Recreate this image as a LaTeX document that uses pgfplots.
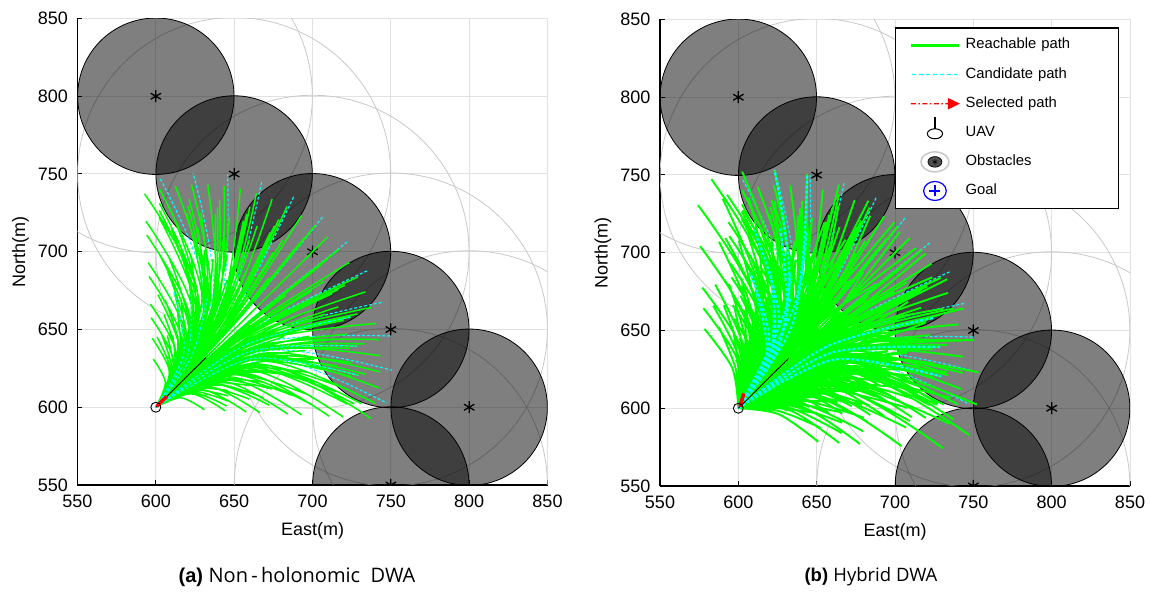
\documentclass[border=0pt]{standalone}
\usepackage{fontspec}
\setmainfont{Liberation Sans}
\newfontfamily\capfont{Open Sans}
\usepackage{pgfplots}
\usepackage{pgfplotstable}
\pgfplotsset{compat=1.18}
\definecolor{pgreen}{RGB}{0,255,0}
\definecolor{pcyan}{RGB}{0,255,255}
\definecolor{pred}{RGB}{255,0,0}
\definecolor{gridc}{RGB}{226,226,226}
\definecolor{ringc}{RGB}{200,200,200}
\definecolor{obsdark}{RGB}{80,80,80}

% obstacle centres (radius 50 m)
\pgfplotstableread[row sep=\\]{x y\\600 800\\650 750\\700 700\\750 650\\800 600\\750 550\\}\obst

% reachable paths of the non-holonomic DWA (also part of the hybrid set)
\pgfplotstableread[row sep=\\]{x y\\
600 600\\654.8 654.8\\709.6 709.6\\nan nan\\
600 600\\652.8 656.7\\701.6 716.9\\nan nan\\
600 600\\656.7 652.8\\716.9 701.6\\nan nan\\
600 600\\650.8 658.4\\693.0 723.4\\nan nan\\
600 600\\658.4 650.8\\723.4 693.0\\nan nan\\
600 600\\648.7 660.1\\683.8 729.1\\nan nan\\
600 600\\660.1 648.7\\729.1 683.8\\nan nan\\
600 600\\646.5 661.7\\674.2 733.8\\nan nan\\
600 600\\661.7 646.5\\733.8 674.2\\nan nan\\
600 600\\644.2 663.2\\664.2 737.6\\nan nan\\
600 600\\663.2 644.2\\737.6 664.2\\nan nan\\
600 600\\641.9 664.5\\653.9 740.5\\nan nan\\
600 600\\664.5 641.9\\740.5 653.9\\nan nan\\
600 600\\639.5 665.8\\643.5 742.4\\nan nan\\
600 600\\665.8 639.5\\742.4 643.5\\nan nan\\
600 600\\637.1 666.9\\633.1 743.3\\nan nan\\
600 600\\666.9 637.1\\743.3 633.1\\nan nan\\
600 600\\634.6 667.9\\622.7 743.2\\nan nan\\
600 600\\667.9 634.6\\743.2 622.7\\nan nan\\
600 600\\632.1 668.8\\612.4 742.2\\nan nan\\
600 600\\668.8 632.1\\742.2 612.4\\nan nan\\
600 600\\629.5 669.6\\602.4 740.2\\nan nan\\
600 600\\669.6 629.5\\740.2 602.4\\nan nan\\
600 600\\627.0 670.3\\592.8 737.3\\nan nan\\
600 600\\670.3 627.0\\737.3 592.8\\nan nan\\
600 600\\649.4 653.0\\695.1 709.3\\nan nan\\
600 600\\653.0 649.4\\709.3 695.1\\nan nan\\
600 600\\645.5 656.2\\678.4 720.7\\nan nan\\
600 600\\656.2 645.5\\720.7 678.4\\nan nan\\
600 600\\641.4 659.1\\660.0 728.8\\nan nan\\
600 600\\659.1 641.4\\728.8 660.0\\nan nan\\
600 600\\637.0 661.5\\640.7 733.2\\nan nan\\
600 600\\661.5 637.0\\733.2 640.7\\nan nan\\
600 600\\632.4 663.5\\621.2 734.0\\nan nan\\
600 600\\663.5 632.4\\734.0 621.2\\nan nan\\
600 600\\627.6 665.1\\602.3 731.2\\nan nan\\
600 600\\665.1 627.6\\731.2 602.3\\nan nan\\
600 600\\647.7 651.2\\691.8 705.6\\nan nan\\
600 600\\651.2 647.7\\705.6 691.8\\nan nan\\
600 600\\644.0 654.3\\675.7 716.6\\nan nan\\
600 600\\654.3 644.0\\716.6 675.7\\nan nan\\
600 600\\640.0 657.1\\658.0 724.3\\nan nan\\
600 600\\657.1 640.0\\724.3 658.0\\nan nan\\
600 600\\635.7 659.4\\639.3 728.6\\nan nan\\
600 600\\659.4 635.7\\728.6 639.3\\nan nan\\
600 600\\631.3 661.3\\620.5 729.4\\nan nan\\
600 600\\661.3 631.3\\729.4 620.5\\nan nan\\
600 600\\626.7 662.9\\602.2 726.6\\nan nan\\
600 600\\662.9 626.7\\726.6 602.2\\nan nan\\
600 600\\647.7 647.7\\695.5 695.5\\nan nan\\
600 600\\646.0 649.4\\688.5 701.8\\nan nan\\
600 600\\649.4 646.0\\701.8 688.5\\nan nan\\
600 600\\644.3 650.9\\681.0 707.5\\nan nan\\
600 600\\650.9 644.3\\707.5 681.0\\nan nan\\
600 600\\642.4 652.4\\673.0 712.4\\nan nan\\
600 600\\652.4 642.4\\712.4 673.0\\nan nan\\
600 600\\640.5 653.7\\664.6 716.5\\nan nan\\
600 600\\653.7 640.5\\716.5 664.6\\nan nan\\
600 600\\638.5 655.0\\655.9 719.9\\nan nan\\
600 600\\655.0 638.5\\719.9 655.9\\nan nan\\
600 600\\636.5 656.2\\647.0 722.4\\nan nan\\
600 600\\656.2 636.5\\722.4 647.0\\nan nan\\
600 600\\634.4 657.3\\637.9 724.0\\nan nan\\
600 600\\657.3 634.4\\724.0 637.9\\nan nan\\
600 600\\632.3 658.3\\628.8 724.8\\nan nan\\
600 600\\658.3 632.3\\724.8 628.8\\nan nan\\
600 600\\630.1 659.2\\619.8 724.7\\nan nan\\
600 600\\659.2 630.1\\724.7 619.8\\nan nan\\
600 600\\627.9 659.9\\610.8 723.8\\nan nan\\
600 600\\659.9 627.9\\723.8 610.8\\nan nan\\
600 600\\625.7 660.6\\602.1 722.1\\nan nan\\
600 600\\660.6 625.7\\722.1 602.1\\nan nan\\
600 600\\623.5 661.2\\593.7 719.6\\nan nan\\
600 600\\661.2 623.5\\719.6 593.7\\nan nan\\
600 600\\644.2 644.2\\688.4 688.4\\nan nan\\
600 600\\641.0 647.1\\675.0 699.5\\nan nan\\
600 600\\647.1 641.0\\699.5 675.0\\nan nan\\
600 600\\637.5 649.8\\659.8 707.9\\nan nan\\
600 600\\649.8 637.5\\707.9 659.8\\nan nan\\
600 600\\633.8 652.0\\643.5 713.3\\nan nan\\
600 600\\652.0 633.8\\713.3 643.5\\nan nan\\
600 600\\629.9 654.0\\626.7 715.6\\nan nan\\
600 600\\654.0 629.9\\715.6 626.7\\nan nan\\
600 600\\625.9 655.5\\610.0 714.7\\nan nan\\
600 600\\655.5 625.9\\714.7 610.0\\nan nan\\
600 600\\621.8 656.7\\594.2 710.7\\nan nan\\
600 600\\656.7 621.8\\710.7 594.2\\nan nan\\
600 600\\637.5 640.2\\672.1 683.0\\nan nan\\
600 600\\640.2 637.5\\683.0 672.1\\nan nan\\
600 600\\634.6 642.7\\659.5 691.6\\nan nan\\
600 600\\642.7 634.6\\691.6 659.5\\nan nan\\
600 600\\631.4 644.8\\645.6 697.7\\nan nan\\
600 600\\644.8 631.4\\697.7 645.6\\nan nan\\
600 600\\628.1 646.7\\630.9 701.1\\nan nan\\
600 600\\646.7 628.1\\701.1 630.9\\nan nan\\
600 600\\624.6 648.2\\616.1 701.6\\nan nan\\
600 600\\648.2 624.6\\701.6 616.1\\nan nan\\
600 600\\621.0 649.4\\601.7 699.5\\nan nan\\
600 600\\649.4 621.0\\699.5 601.7\\nan nan\\
600 600\\637.1 637.1\\674.2 674.2\\nan nan\\
600 600\\634.4 639.6\\663.0 683.6\\nan nan\\
600 600\\639.6 634.4\\683.6 663.0\\nan nan\\
600 600\\631.5 641.8\\650.2 690.6\\nan nan\\
600 600\\641.8 631.5\\690.6 650.2\\nan nan\\
600 600\\628.4 643.7\\636.5 695.2\\nan nan\\
600 600\\643.7 628.4\\695.2 636.5\\nan nan\\
600 600\\625.1 645.3\\622.4 697.1\\nan nan\\
600 600\\645.3 625.1\\697.1 622.4\\nan nan\\
600 600\\621.7 646.6\\608.4 696.3\\nan nan\\
600 600\\646.6 621.7\\696.3 608.4\\nan nan\\
600 600\\618.3 647.6\\595.1 693.0\\nan nan\\
600 600\\647.6 618.3\\693.0 595.1\\nan nan\\
600 600\\633.6 633.6\\667.2 667.2\\nan nan\\
600 600\\631.1 635.8\\657.0 675.6\\nan nan\\
600 600\\635.8 631.1\\675.6 657.0\\nan nan\\
600 600\\628.5 637.8\\645.5 682.0\\nan nan\\
600 600\\637.8 628.5\\682.0 645.5\\nan nan\\
600 600\\625.7 639.5\\633.1 686.1\\nan nan\\
600 600\\639.5 625.7\\686.1 633.1\\nan nan\\
600 600\\622.7 641.0\\620.3 687.8\\nan nan\\
600 600\\641.0 622.7\\687.8 620.3\\nan nan\\
600 600\\619.7 642.2\\607.6 687.1\\nan nan\\
600 600\\642.2 619.7\\687.1 607.6\\nan nan\\
600 600\\616.5 643.1\\595.6 684.2\\nan nan\\
600 600\\643.1 616.5\\684.2 595.6\\nan nan\\
600 600\\627.3 629.2\\652.4 660.3\\nan nan\\
600 600\\629.2 627.3\\660.3 652.4\\nan nan\\
600 600\\625.1 631.0\\643.2 666.6\\nan nan\\
600 600\\631.0 625.1\\666.6 643.2\\nan nan\\
600 600\\622.8 632.6\\633.1 671.0\\nan nan\\
600 600\\632.6 622.8\\671.0 633.1\\nan nan\\
600 600\\620.4 634.0\\622.5 673.5\\nan nan\\
600 600\\634.0 620.4\\673.5 622.5\\nan nan\\
600 600\\617.9 635.1\\611.7 673.9\\nan nan\\
600 600\\635.1 617.9\\673.9 611.7\\nan nan\\
600 600\\615.2 635.9\\601.3 672.4\\nan nan\\
600 600\\635.9 615.2\\672.4 601.3\\nan nan\\
600 600\\626.5 626.5\\653.0 653.0\\nan nan\\
600 600\\624.6 628.3\\645.0 659.7\\nan nan\\
600 600\\628.3 624.6\\659.7 645.0\\nan nan\\
600 600\\622.5 629.9\\635.9 664.7\\nan nan\\
600 600\\629.9 622.5\\664.7 635.9\\nan nan\\
600 600\\620.3 631.2\\626.1 668.0\\nan nan\\
600 600\\631.2 620.3\\668.0 626.1\\nan nan\\
600 600\\617.9 632.4\\616.0 669.3\\nan nan\\
600 600\\632.4 617.9\\669.3 616.0\\nan nan\\
600 600\\615.5 633.3\\606.0 668.8\\nan nan\\
600 600\\633.3 615.5\\668.8 606.0\\nan nan\\
600 600\\613.1 634.0\\596.5 666.4\\nan nan\\
600 600\\634.0 613.1\\666.4 596.5\\nan nan\\
600 600\\623.0 623.0\\646.0 646.0\\nan nan\\
600 600\\621.3 624.5\\639.0 651.7\\nan nan\\
600 600\\624.5 621.3\\651.7 639.0\\nan nan\\
600 600\\619.5 625.9\\631.1 656.1\\nan nan\\
600 600\\625.9 619.5\\656.1 631.1\\nan nan\\
600 600\\617.6 627.1\\622.6 658.9\\nan nan\\
600 600\\627.1 617.6\\658.9 622.6\\nan nan\\
600 600\\615.6 628.1\\613.9 660.1\\nan nan\\
600 600\\628.1 615.6\\660.1 613.9\\nan nan\\
600 600\\613.5 628.9\\605.2 659.6\\nan nan\\
600 600\\628.9 613.5\\659.6 605.2\\nan nan\\
600 600\\611.3 629.5\\597.0 657.6\\nan nan\\
600 600\\629.5 611.3\\657.6 597.0\\nan nan\\
600 600\\617.7 617.7\\635.4 635.4\\nan nan\\
600 600\\617.0 618.3\\632.8 637.7\\nan nan\\
600 600\\618.3 617.0\\637.7 632.8\\nan nan\\
600 600\\616.4 618.9\\630.0 639.8\\nan nan\\
600 600\\618.9 616.4\\639.8 630.0\\nan nan\\
600 600\\615.7 619.4\\627.0 641.6\\nan nan\\
600 600\\619.4 615.7\\641.6 627.0\\nan nan\\
600 600\\615.0 619.9\\623.9 643.2\\nan nan\\
600 600\\619.9 615.0\\643.2 623.9\\nan nan\\
600 600\\614.3 620.4\\620.7 644.4\\nan nan\\
600 600\\620.4 614.3\\644.4 620.7\\nan nan\\
600 600\\613.5 620.8\\617.4 645.3\\nan nan\\
600 600\\620.8 613.5\\645.3 617.4\\nan nan\\
600 600\\612.8 621.2\\614.0 645.9\\nan nan\\
600 600\\621.2 612.8\\645.9 614.0\\nan nan\\
600 600\\612.0 621.6\\610.7 646.2\\nan nan\\
600 600\\621.6 612.0\\646.2 610.7\\nan nan\\
600 600\\611.2 621.9\\607.3 646.2\\nan nan\\
600 600\\621.9 611.2\\646.2 607.3\\nan nan\\
600 600\\610.4 622.2\\604.0 645.9\\nan nan\\
600 600\\622.2 610.4\\645.9 604.0\\nan nan\\
600 600\\609.5 622.5\\600.8 645.2\\nan nan\\
600 600\\622.5 609.5\\645.2 600.8\\nan nan\\
600 600\\608.7 622.7\\597.7 644.3\\nan nan\\
600 600\\622.7 608.7\\644.3 597.7\\nan nan\\
600 600\\612.4 612.4\\624.7 624.7\\nan nan\\
600 600\\610.5 613.9\\616.7 630.2\\nan nan\\
600 600\\613.9 610.5\\630.2 616.7\\nan nan\\
600 600\\608.4 615.1\\607.5 632.4\\nan nan\\
600 600\\615.1 608.4\\632.4 607.5\\nan nan\\
600 600\\606.1 615.9\\598.4 631.0\\nan nan\\
600 600\\615.9 606.1\\631.0 598.4\\nan nan\\
}\greenA

% extra reachable paths of the hybrid DWA (with lateral motion)
\pgfplotstableread[row sep=\\]{x y\\
600 600\\634.2 654.2\\668.4 708.4\\nan nan\\
600 600\\631.0 657.1\\655.0 719.5\\nan nan\\
600 600\\637.1 651.0\\679.5 695.0\\nan nan\\
600 600\\627.5 659.8\\639.8 727.9\\nan nan\\
600 600\\639.8 647.5\\687.9 679.8\\nan nan\\
600 600\\623.8 662.0\\623.5 733.3\\nan nan\\
600 600\\642.0 643.8\\693.3 663.5\\nan nan\\
600 600\\619.9 664.0\\606.7 735.6\\nan nan\\
600 600\\644.0 639.9\\695.6 646.7\\nan nan\\
600 600\\615.9 665.5\\590.0 734.7\\nan nan\\
600 600\\645.5 635.9\\694.7 630.0\\nan nan\\
600 600\\611.8 666.7\\574.2 730.7\\nan nan\\
600 600\\646.7 631.8\\690.7 614.2\\nan nan\\
600 600\\623.6 643.6\\647.2 687.2\\nan nan\\
600 600\\621.1 645.8\\637.0 695.6\\nan nan\\
600 600\\625.8 641.1\\655.6 677.0\\nan nan\\
600 600\\618.5 647.8\\625.5 702.0\\nan nan\\
600 600\\627.8 638.5\\662.0 665.5\\nan nan\\
600 600\\615.7 649.5\\613.1 706.1\\nan nan\\
600 600\\629.5 635.7\\666.1 653.1\\nan nan\\
600 600\\612.7 651.0\\600.3 707.8\\nan nan\\
600 600\\631.0 632.7\\667.8 640.3\\nan nan\\
600 600\\609.7 652.2\\587.6 707.1\\nan nan\\
600 600\\632.2 629.7\\667.1 627.6\\nan nan\\
600 600\\606.5 653.1\\575.6 704.2\\nan nan\\
600 600\\633.1 626.5\\664.2 615.6\\nan nan\\
600 600\\613.0 633.0\\626.0 666.0\\nan nan\\
600 600\\611.3 634.5\\619.0 671.7\\nan nan\\
600 600\\614.5 631.3\\631.7 659.0\\nan nan\\
600 600\\609.5 635.9\\611.1 676.1\\nan nan\\
600 600\\615.9 629.5\\636.1 651.1\\nan nan\\
600 600\\607.6 637.1\\602.6 678.9\\nan nan\\
600 600\\617.1 627.6\\638.9 642.6\\nan nan\\
600 600\\605.6 638.1\\593.9 680.1\\nan nan\\
600 600\\618.1 625.6\\640.1 633.9\\nan nan\\
600 600\\603.5 638.9\\585.2 679.6\\nan nan\\
600 600\\618.9 623.5\\639.6 625.2\\nan nan\\
600 600\\601.3 639.5\\577.0 677.6\\nan nan\\
600 600\\619.5 621.3\\637.6 617.0\\nan nan\\
600 600\\607.7 627.7\\615.4 655.4\\nan nan\\
600 600\\606.4 628.9\\610.0 659.8\\nan nan\\
600 600\\608.9 626.4\\619.8 650.0\\nan nan\\
600 600\\605.0 629.9\\603.9 663.2\\nan nan\\
600 600\\609.9 625.0\\623.2 643.9\\nan nan\\
600 600\\603.5 630.8\\597.4 665.3\\nan nan\\
600 600\\610.8 623.5\\625.3 637.4\\nan nan\\
600 600\\602.0 631.6\\590.7 666.2\\nan nan\\
600 600\\611.6 622.0\\626.2 630.7\\nan nan\\
600 600\\600.4 632.2\\584.0 665.9\\nan nan\\
600 600\\612.2 620.4\\625.9 624.0\\nan nan\\
600 600\\598.7 632.7\\577.7 664.3\\nan nan\\
600 600\\612.7 618.7\\624.3 617.7\\nan nan\\
600 600\\602.4 622.4\\604.7 644.7\\nan nan\\
600 600\\600.5 623.9\\596.7 650.2\\nan nan\\
600 600\\603.9 620.5\\610.2 636.7\\nan nan\\
600 600\\598.4 625.1\\587.5 652.4\\nan nan\\
600 600\\605.1 618.4\\612.4 627.5\\nan nan\\
600 600\\596.1 625.9\\578.4 651.0\\nan nan\\
600 600\\605.9 616.1\\611.0 618.4\\nan nan\\
600 600\\654.2 634.2\\708.4 668.4\\nan nan\\
600 600\\657.1 631.0\\719.5 655.0\\nan nan\\
600 600\\651.0 637.1\\695.0 679.5\\nan nan\\
600 600\\659.8 627.5\\727.9 639.8\\nan nan\\
600 600\\647.5 639.8\\679.8 687.9\\nan nan\\
600 600\\662.0 623.8\\733.3 623.5\\nan nan\\
600 600\\643.8 642.0\\663.5 693.3\\nan nan\\
600 600\\664.0 619.9\\735.6 606.7\\nan nan\\
600 600\\639.9 644.0\\646.7 695.6\\nan nan\\
600 600\\665.5 615.9\\734.7 590.0\\nan nan\\
600 600\\635.9 645.5\\630.0 694.7\\nan nan\\
600 600\\666.7 611.8\\730.7 574.2\\nan nan\\
600 600\\631.8 646.7\\614.2 690.7\\nan nan\\
600 600\\643.6 623.6\\687.2 647.2\\nan nan\\
600 600\\645.8 621.1\\695.6 637.0\\nan nan\\
600 600\\641.1 625.8\\677.0 655.6\\nan nan\\
600 600\\647.8 618.5\\702.0 625.5\\nan nan\\
600 600\\638.5 627.8\\665.5 662.0\\nan nan\\
600 600\\649.5 615.7\\706.1 613.1\\nan nan\\
600 600\\635.7 629.5\\653.1 666.1\\nan nan\\
600 600\\651.0 612.7\\707.8 600.3\\nan nan\\
600 600\\632.7 631.0\\640.3 667.8\\nan nan\\
600 600\\652.2 609.7\\707.1 587.6\\nan nan\\
600 600\\629.7 632.2\\627.6 667.1\\nan nan\\
600 600\\653.1 606.5\\704.2 575.6\\nan nan\\
600 600\\626.5 633.1\\615.6 664.2\\nan nan\\
600 600\\633.0 613.0\\666.0 626.0\\nan nan\\
600 600\\634.5 611.3\\671.7 619.0\\nan nan\\
600 600\\631.3 614.5\\659.0 631.7\\nan nan\\
600 600\\635.9 609.5\\676.1 611.1\\nan nan\\
600 600\\629.5 615.9\\651.1 636.1\\nan nan\\
600 600\\637.1 607.6\\678.9 602.6\\nan nan\\
600 600\\627.6 617.1\\642.6 638.9\\nan nan\\
600 600\\638.1 605.6\\680.1 593.9\\nan nan\\
600 600\\625.6 618.1\\633.9 640.1\\nan nan\\
600 600\\638.9 603.5\\679.6 585.2\\nan nan\\
600 600\\623.5 618.9\\625.2 639.6\\nan nan\\
600 600\\639.5 601.3\\677.6 577.0\\nan nan\\
600 600\\621.3 619.5\\617.0 637.6\\nan nan\\
600 600\\627.7 607.7\\655.4 615.4\\nan nan\\
600 600\\628.9 606.4\\659.8 610.0\\nan nan\\
600 600\\626.4 608.9\\650.0 619.8\\nan nan\\
600 600\\629.9 605.0\\663.2 603.9\\nan nan\\
600 600\\625.0 609.9\\643.9 623.2\\nan nan\\
600 600\\630.8 603.5\\665.3 597.4\\nan nan\\
600 600\\623.5 610.8\\637.4 625.3\\nan nan\\
600 600\\631.6 602.0\\666.2 590.7\\nan nan\\
600 600\\622.0 611.6\\630.7 626.2\\nan nan\\
600 600\\632.2 600.4\\665.9 584.0\\nan nan\\
600 600\\620.4 612.2\\624.0 625.9\\nan nan\\
600 600\\632.7 598.7\\664.3 577.7\\nan nan\\
600 600\\618.7 612.7\\617.7 624.3\\nan nan\\
600 600\\622.4 602.4\\644.7 604.7\\nan nan\\
600 600\\623.9 600.5\\650.2 596.7\\nan nan\\
600 600\\620.5 603.9\\636.7 610.2\\nan nan\\
600 600\\625.1 598.4\\652.4 587.5\\nan nan\\
600 600\\618.4 605.1\\627.5 612.4\\nan nan\\
600 600\\625.9 596.1\\651.0 578.4\\nan nan\\
600 600\\616.1 605.9\\618.4 611.0\\nan nan\\
600 600\\649.8 659.8\\699.6 719.6\\nan nan\\
600 600\\645.8 663.4\\683.0 733.4\\nan nan\\
600 600\\653.4 655.8\\713.4 703.0\\nan nan\\
600 600\\641.5 666.7\\664.2 743.8\\nan nan\\
600 600\\656.7 651.5\\723.8 684.2\\nan nan\\
600 600\\636.9 669.5\\643.9 750.5\\nan nan\\
600 600\\659.5 646.9\\730.5 663.9\\nan nan\\
600 600\\632.1 671.9\\623.1 753.3\\nan nan\\
600 600\\661.9 642.1\\733.3 643.1\\nan nan\\
600 600\\627.1 673.8\\602.4 752.2\\nan nan\\
600 600\\663.8 637.1\\732.2 622.4\\nan nan\\
600 600\\622.0 675.3\\582.8 747.3\\nan nan\\
600 600\\665.3 632.0\\727.3 602.8\\nan nan\\
600 600\\632.5 645.2\\662.1 693.0\\nan nan\\
600 600\\635.2 642.5\\673.0 682.1\\nan nan\\
600 600\\629.6 647.7\\649.5 701.6\\nan nan\\
600 600\\637.7 639.6\\681.6 669.5\\nan nan\\
600 600\\626.4 649.8\\635.6 707.7\\nan nan\\
600 600\\639.8 636.4\\687.7 655.6\\nan nan\\
600 600\\623.1 651.7\\620.9 711.1\\nan nan\\
600 600\\641.7 633.1\\691.1 640.9\\nan nan\\
600 600\\619.6 653.2\\606.1 711.6\\nan nan\\
600 600\\643.2 629.6\\691.6 626.1\\nan nan\\
600 600\\616.0 654.4\\591.7 709.5\\nan nan\\
600 600\\644.4 626.0\\689.5 611.7\\nan nan\\
600 600\\622.3 634.2\\642.4 670.3\\nan nan\\
600 600\\624.2 632.3\\650.3 662.4\\nan nan\\
600 600\\620.1 636.0\\633.2 676.6\\nan nan\\
600 600\\626.0 630.1\\656.6 653.2\\nan nan\\
600 600\\617.8 637.6\\623.1 681.0\\nan nan\\
600 600\\627.6 627.8\\661.0 643.1\\nan nan\\
600 600\\615.4 639.0\\612.5 683.5\\nan nan\\
600 600\\629.0 625.4\\663.5 632.5\\nan nan\\
600 600\\612.9 640.1\\601.7 683.9\\nan nan\\
600 600\\630.1 622.9\\663.9 621.7\\nan nan\\
600 600\\610.2 640.9\\591.3 682.4\\nan nan\\
600 600\\630.9 620.2\\662.4 611.3\\nan nan\\
600 600\\659.8 649.8\\719.6 699.6\\nan nan\\
600 600\\663.4 645.8\\733.4 683.0\\nan nan\\
600 600\\655.8 653.4\\703.0 713.4\\nan nan\\
600 600\\666.7 641.5\\743.8 664.2\\nan nan\\
600 600\\651.5 656.7\\684.2 723.8\\nan nan\\
600 600\\669.5 636.9\\750.5 643.9\\nan nan\\
600 600\\646.9 659.5\\663.9 730.5\\nan nan\\
600 600\\671.9 632.1\\753.3 623.1\\nan nan\\
600 600\\642.1 661.9\\643.1 733.3\\nan nan\\
600 600\\673.8 627.1\\752.2 602.4\\nan nan\\
600 600\\637.1 663.8\\622.4 732.2\\nan nan\\
600 600\\675.3 622.0\\747.3 582.8\\nan nan\\
600 600\\632.0 665.3\\602.8 727.3\\nan nan\\
600 600\\645.2 632.5\\693.0 662.1\\nan nan\\
600 600\\642.5 635.2\\682.1 673.0\\nan nan\\
600 600\\647.7 629.6\\701.6 649.5\\nan nan\\
600 600\\639.6 637.7\\669.5 681.6\\nan nan\\
600 600\\649.8 626.4\\707.7 635.6\\nan nan\\
600 600\\636.4 639.8\\655.6 687.7\\nan nan\\
600 600\\651.7 623.1\\711.1 620.9\\nan nan\\
600 600\\633.1 641.7\\640.9 691.1\\nan nan\\
600 600\\653.2 619.6\\711.6 606.1\\nan nan\\
600 600\\629.6 643.2\\626.1 691.6\\nan nan\\
600 600\\654.4 616.0\\709.5 591.7\\nan nan\\
600 600\\626.0 644.4\\611.7 689.5\\nan nan\\
600 600\\634.2 622.3\\670.3 642.4\\nan nan\\
600 600\\632.3 624.2\\662.4 650.3\\nan nan\\
600 600\\636.0 620.1\\676.6 633.2\\nan nan\\
600 600\\630.1 626.0\\653.2 656.6\\nan nan\\
600 600\\637.6 617.8\\681.0 623.1\\nan nan\\
600 600\\627.8 627.6\\643.1 661.0\\nan nan\\
600 600\\639.0 615.4\\683.5 612.5\\nan nan\\
600 600\\625.4 629.0\\632.5 663.5\\nan nan\\
600 600\\640.1 612.9\\683.9 601.7\\nan nan\\
600 600\\622.9 630.1\\621.7 663.9\\nan nan\\
600 600\\640.9 610.2\\682.4 591.3\\nan nan\\
600 600\\620.2 630.9\\611.3 662.4\\nan nan\\
}\greenB

% candidate paths (drawn below the reachable ones)
\pgfplotstableread[row sep=\\]{x y\\
600 600\\655.6 659.6\\706.9 722.9\\nan nan\\
600 600\\659.6 655.6\\722.9 706.9\\nan nan\\
600 600\\651.2 663.2\\688.1 735.7\\nan nan\\
600 600\\663.2 651.2\\735.7 688.1\\nan nan\\
600 600\\646.5 666.4\\667.5 744.7\\nan nan\\
600 600\\666.4 646.5\\744.7 667.5\\nan nan\\
600 600\\641.6 669.2\\645.8 749.7\\nan nan\\
600 600\\669.2 641.6\\749.7 645.8\\nan nan\\
600 600\\636.4 671.4\\623.8 750.6\\nan nan\\
600 600\\671.4 636.4\\750.6 623.8\\nan nan\\
600 600\\631.1 673.2\\602.6 747.4\\nan nan\\
600 600\\673.2 631.1\\747.4 602.6\\nan nan\\
}\cyanU

% candidate paths (visible on top)
\pgfplotstableread[row sep=\\]{x y\\
600 600\\622.8 632.6\\633.1 671.0\\nan nan\\
600 600\\620.4 634.0\\622.5 673.5\\nan nan\\
600 600\\617.9 635.1\\611.7 673.9\\nan nan\\
600 600\\657.1 640.0\\724.3 658.0\\nan nan\\
600 600\\659.4 635.7\\728.6 639.3\\nan nan\\
600 600\\661.3 631.3\\729.4 620.5\\nan nan\\
}\cyanT

\pgfplotstableread[row sep=\\]{x y\\
600 600\\633.8 652.0\\643.5 713.3\\nan nan\\
600 600\\629.9 654.0\\626.7 715.6\\nan nan\\
600 600\\625.9 655.5\\610.0 714.7\\nan nan\\
600 600\\625.7 639.5\\633.1 686.1\\nan nan\\
600 600\\622.7 641.0\\620.3 687.8\\nan nan\\
600 600\\619.7 642.2\\607.6 687.1\\nan nan\\
600 600\\636.9 669.5\\643.9 750.5\\nan nan\\
600 600\\632.1 671.9\\623.1 753.3\\nan nan\\
}\cyanTB

\pgfplotsset{
  dwa/.style={
    scale only axis, width=470pt, height=466.5pt,
    xmin=550, xmax=850, ymin=550, ymax=850,
    xtick={550,600,...,850}, ytick={550,600,...,850},
    grid=major, grid style={draw=gridc, line width=1pt},
    axis x line*=bottom, axis y line*=left,
    axis line style={black, line width=1.1pt},
    xtick pos=left, ytick pos=left,
    tick align=inside, major tick length=5pt,
    tick style={black, line width=1pt},
    tick label style={font=\fontsize{18}{20}\selectfont},
    xticklabel style={yshift=-6pt},
    yticklabel style={xshift=-6pt},
    /pgf/number format/assume math mode=true,
    /pgf/number format/1000 sep={},
    label style={font=\fontsize{18}{20}\selectfont},
    xlabel={East(m)}, ylabel={North(m)},
    xlabel style={at={(axis description cs:0.5,-0.0987)}, anchor=center},
    ylabel style={at={(axis description cs:-0.1213,0.5)}, anchor=center},
    clip marker paths=true,
    unbounded coords=jump,
  },
  green path/.style={pgreen, line width=1.5pt, smooth, forget plot},
  cyan path/.style={pcyan, line width=1.1pt, smooth, dash pattern=on 3pt off 2pt, forget plot},
}

\newcommand{\obstacles}{%
  \addplot[only marks, forget plot, mark=o, mark size=156.5pt,
    mark options={draw=ringc, line width=0.8pt}] table {\obst};
  \addplot[only marks, forget plot, mark=*, mark size=78.2pt,
    mark options={draw=black, fill=black, fill opacity=0.5, line width=0.8pt}] table {\obst};
  \addplot[only marks, forget plot, mark=asterisk, mark size=6pt,
    mark options={black, line width=1.3pt}] table {\obst};
}
\newcommand{\uav}[4]{%
  \addplot[black, line width=0.9pt, forget plot] coordinates {(600,600) (632,632)};
  \addplot[pred, line width=3.6pt, forget plot] coordinates {(#1,#2) (#3,#4)};
  \addplot[only marks, forget plot, mark=o, mark size=5pt,
    mark options={black, line width=0.9pt}] coordinates {(600,600)};
}

\begin{document}
\begin{tikzpicture}
\useasboundingbox (0pt,0pt) rectangle (1151pt,594pt);

% ---------------- (a) Non-holonomic DWA ----------------
\begin{axis}[dwa, at={(77.5pt,109pt)}, anchor=south west]
\obstacles
\addplot[cyan path] table {\cyanU};
\addplot[green path] table {\greenA};
\addplot[cyan path] table {\cyanT};
\uav{600.6}{600.6}{607}{607}
\end{axis}

% ---------------- (b) Hybrid DWA ----------------
\begin{axis}[dwa, at={(660pt,108pt)}, anchor=south west,
  legend cell align=left,
  legend style={at={(0.977,0.983)}, anchor=north east, draw=black,
    line width=1.1pt, fill=white, inner xsep=14pt, inner ysep=9.5pt,
    row sep=13.1pt, font=\fontsize{14.8}{16}\selectfont,
    nodes={inner sep=0pt, text height=11pt, text depth=4pt, text width=139pt, align=left}}]
\addlegendimage{legend image code/.code={
  \path[draw=none, fill=none] (0pt,-8pt) rectangle (54.7pt,8pt);
  \draw[color=pgreen, line width=2.2pt, opacity=1] (0pt,0pt) -- (48pt,0pt);}}
\addlegendimage{legend image code/.code={
  \path[draw=none, fill=none] (0pt,-8pt) rectangle (54.7pt,8pt);
  \path[draw=none, fill=pcyan] (1pt,-0.65pt) rectangle (5pt,0.65pt) (8pt,-0.65pt) rectangle (12pt,0.65pt)
    (15pt,-0.65pt) rectangle (19pt,0.65pt) (22pt,-0.65pt) rectangle (26pt,0.65pt)
    (29pt,-0.65pt) rectangle (33pt,0.65pt) (36pt,-0.65pt) rectangle (40pt,0.65pt)
    (43pt,-0.65pt) rectangle (46pt,0.65pt);}}
\addlegendimage{legend image code/.code={
  \path[draw=none, fill=none] (0pt,-8pt) rectangle (54.7pt,8pt);
  \path[draw=none, fill=pred] (0pt,-0.6pt) rectangle (5pt,0.6pt) (7.5pt,-0.6pt) rectangle (9pt,0.6pt)
    (11.5pt,-0.6pt) rectangle (16.5pt,0.6pt) (19pt,-0.6pt) rectangle (20.5pt,0.6pt)
    (23pt,-0.6pt) rectangle (28pt,0.6pt) (30.5pt,-0.6pt) rectangle (32pt,0.6pt)
    (34.5pt,-0.6pt) rectangle (38pt,0.6pt);
  \path[draw=none, fill=pred] (37pt,-5.8pt) -- (49pt,0pt) -- (37pt,5.8pt) -- cycle;}}
\addlegendimage{legend image code/.code={
  \path[draw=none, fill=none] (0pt,-8pt) rectangle (54.7pt,8pt);
  \draw[draw=black, fill=white, line width=1pt] (24pt,-1pt) ellipse (7.6pt and 5pt);
  \draw[overlay, draw=black, line width=1.3pt] (24pt,4pt) -- (24pt,16pt);}}
\addlegendimage{legend image code/.code={
  \path[draw=none, fill=none] (0pt,-8pt) rectangle (54.7pt,8pt);
  \draw[overlay, draw=ringc, line width=1.5pt, fill=white] (24pt,0pt) ellipse (14pt and 10pt);
  \draw[draw=black, line width=0.7pt, fill=obsdark] (24pt,0pt) ellipse (7pt and 5.3pt);
  \path[draw=none] plot[only marks, mark=asterisk, mark size=2.6pt, mark options={draw=black, line width=0.6pt}] coordinates {(24pt,0pt)};}}
\addlegendimage{legend image code/.code={
  \path[draw=none, fill=none] (0pt,-8pt) rectangle (54.7pt,8pt);
  \draw[overlay, draw=blue, fill=white, line width=1.2pt] (24pt,0pt) ellipse (11.3pt and 9.5pt);
  \draw[draw=blue, line width=1.2pt] (18.5pt,0pt) -- (29.5pt,0pt) (24pt,-5.5pt) -- (24pt,5.5pt);}}
\obstacles
\addplot[cyan path] table {\cyanU};
\addplot[green path, line width=1.9pt] table {\greenA};
\addplot[green path, line width=1.9pt] table {\greenB};
\addplot[cyan path, line width=2.2pt] table {\cyanT};
\addplot[cyan path, line width=2.2pt] table {\cyanTB};
\uav{601}{601}{603.5}{609.5}
\legend{Reachable path, Candidate path, Selected path, UAV, Obstacles, Goal}
\end{axis}

\node[anchor=center] at (297pt,17.3pt) {\fontsize{20}{23}\selectfont\textbf{(a)}\ \capfont Non\,-\,holonomic\ \ DWA};
\node[anchor=center] at (871pt,17.3pt) {\fontsize{18.5}{22}\selectfont\textbf{(b)}\ \capfont Hybrid DWA};
\end{tikzpicture}
\end{document}
